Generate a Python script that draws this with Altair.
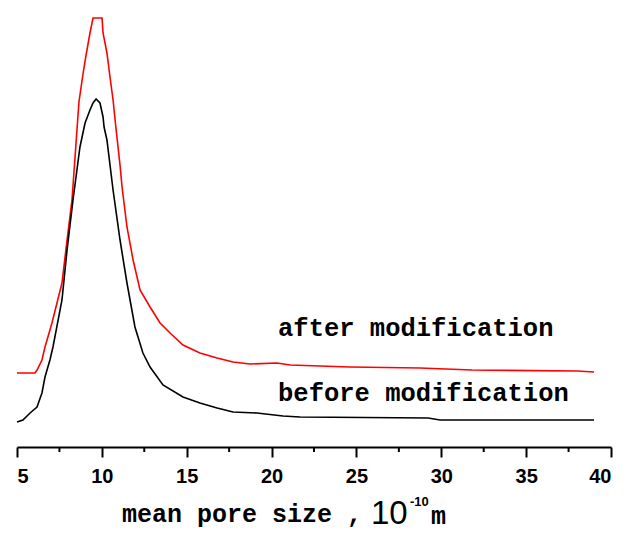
import altair as alt
import pandas as pd

# pore size (1e-10 m) and relative intensity (arbitrary units)
after_x = [5.00, 6.06, 6.18, 6.47, 6.65, 7.06, 7.65, 7.95, 8.24, 8.45, 8.65, 8.88, 9.05, 9.30, 9.48,
           10.01, 10.07, 10.30, 10.48, 10.66, 10.83, 11.07, 11.19, 11.48, 11.84, 12.25, 12.84, 13.43,
           14.02, 14.78, 15.78, 16.79, 17.73, 18.73, 20.32, 21.09, 24.62, 28.75, 31.81, 38.00, 39.00]
after_y = [74, 74, 77, 87, 100, 124, 164, 207, 247, 297, 345, 372, 390, 414, 429,
           429, 414, 394, 370, 347, 319, 282, 260, 220, 187, 157, 140, 124,
           114, 102, 94, 89, 85, 83, 84, 82, 80, 79, 77, 76, 75]

before_x = [5.00, 5.35, 5.77, 6.18, 6.47, 6.65, 6.94, 7.12, 7.65, 7.95, 8.30, 8.71, 9.01, 9.30, 9.48,
            9.66, 9.89, 10.07, 10.13, 10.30, 10.66, 11.07, 11.48, 11.95, 12.42, 12.84, 13.60, 14.78,
            15.78, 16.79, 17.73, 19.14, 20.67, 21.68, 29.22, 29.93, 39.00]
before_y = [25, 27, 34, 40, 54, 70, 87, 100, 147, 197, 247, 300, 324, 337, 344,
            348, 344, 330, 320, 307, 257, 207, 164, 120, 94, 80, 62, 50,
            44, 39, 35, 34, 31, 30, 29, 27, 27]

x_ticks = [5, 10, 15, 20, 25, 30, 35, 40]
minor_ticks = [7.5, 12.5, 17.5, 22.5, 27.5, 32.5, 37.5]

label_text = ["after modification", "before modification"]
label_x = [20.38, 20.38]
label_y = [119, 54]

W, H = 594, 439

df = pd.concat([
    pd.DataFrame({"x": after_x, "y": after_y, "series": "after"}),
    pd.DataFrame({"x": before_x, "y": before_y, "series": "before"}),
])

xscale = alt.Scale(domain=[5, 40], nice=False, zero=False)
yscale = alt.Scale(domain=[0, H], nice=False, zero=False)

lines = alt.Chart(df).mark_line(strokeWidth=1.6).encode(
    x=alt.X("x:Q", scale=xscale,
            axis=alt.Axis(values=x_ticks, title=None, grid=False,
                          tickSize=10, tickWidth=2, tickColor="black",
                          domainWidth=2, domainColor="black",
                          labelFont="Liberation Sans", labelFontWeight="bold",
                          labelFontSize=20, labelColor="black", labelPadding=9)),
    y=alt.Y("y:Q", scale=yscale, axis=None),
    color=alt.Color("series:N", scale=alt.Scale(domain=["after", "before"],
                                                range=["#ff0000", "#000000"]),
                    legend=None),
    order=alt.Order("x:Q"),
)

minor = alt.Chart(pd.DataFrame({"x": minor_ticks})).mark_rule(
    color="black", strokeWidth=2).encode(
    x=alt.X("x:Q", scale=xscale), y=alt.value(H), y2=alt.value(H + 5))

labels = alt.Chart(pd.DataFrame({"x": label_x, "y": label_y, "t": label_text})).mark_text(
    font="Liberation Mono", fontWeight="bold", fontSize=25.5, align="left",
    baseline="middle", color="black").encode(
    x=alt.X("x:Q", scale=xscale), y=alt.Y("y:Q", scale=yscale), text="t:N")

title_parts = [
    ("mean pore size ,", "Liberation Mono", "bold", 25, 105, 514),
    ("10", "Liberation Sans", "normal", 33, 354, 516),
    ("-10", "Liberation Sans", "bold", 13, 393, 498),
    ("m", "Liberation Mono", "bold", 25, 414, 516),
]
title_layers = []
for txt, fnt, fw, fs, tx, ty in title_parts:
    title_layers.append(
        alt.Chart(pd.DataFrame({"t": [txt]})).mark_text(
            font=fnt, fontWeight=fw, fontSize=fs, align="left",
            baseline="alphabetic", color="black").encode(
            x=alt.value(tx), y=alt.value(ty), text="t:N"))

chart = alt.layer(lines, minor, labels, *title_layers).properties(
    width=W, height=H,
    autosize=alt.AutoSizeParams(type="none"),
    padding={"left": 9, "top": 0, "right": 12, "bottom": 84},
    background="white",
).configure_view(stroke=None)

chart.save("out.html", embed_options={"renderer": "svg", "actions": False})
